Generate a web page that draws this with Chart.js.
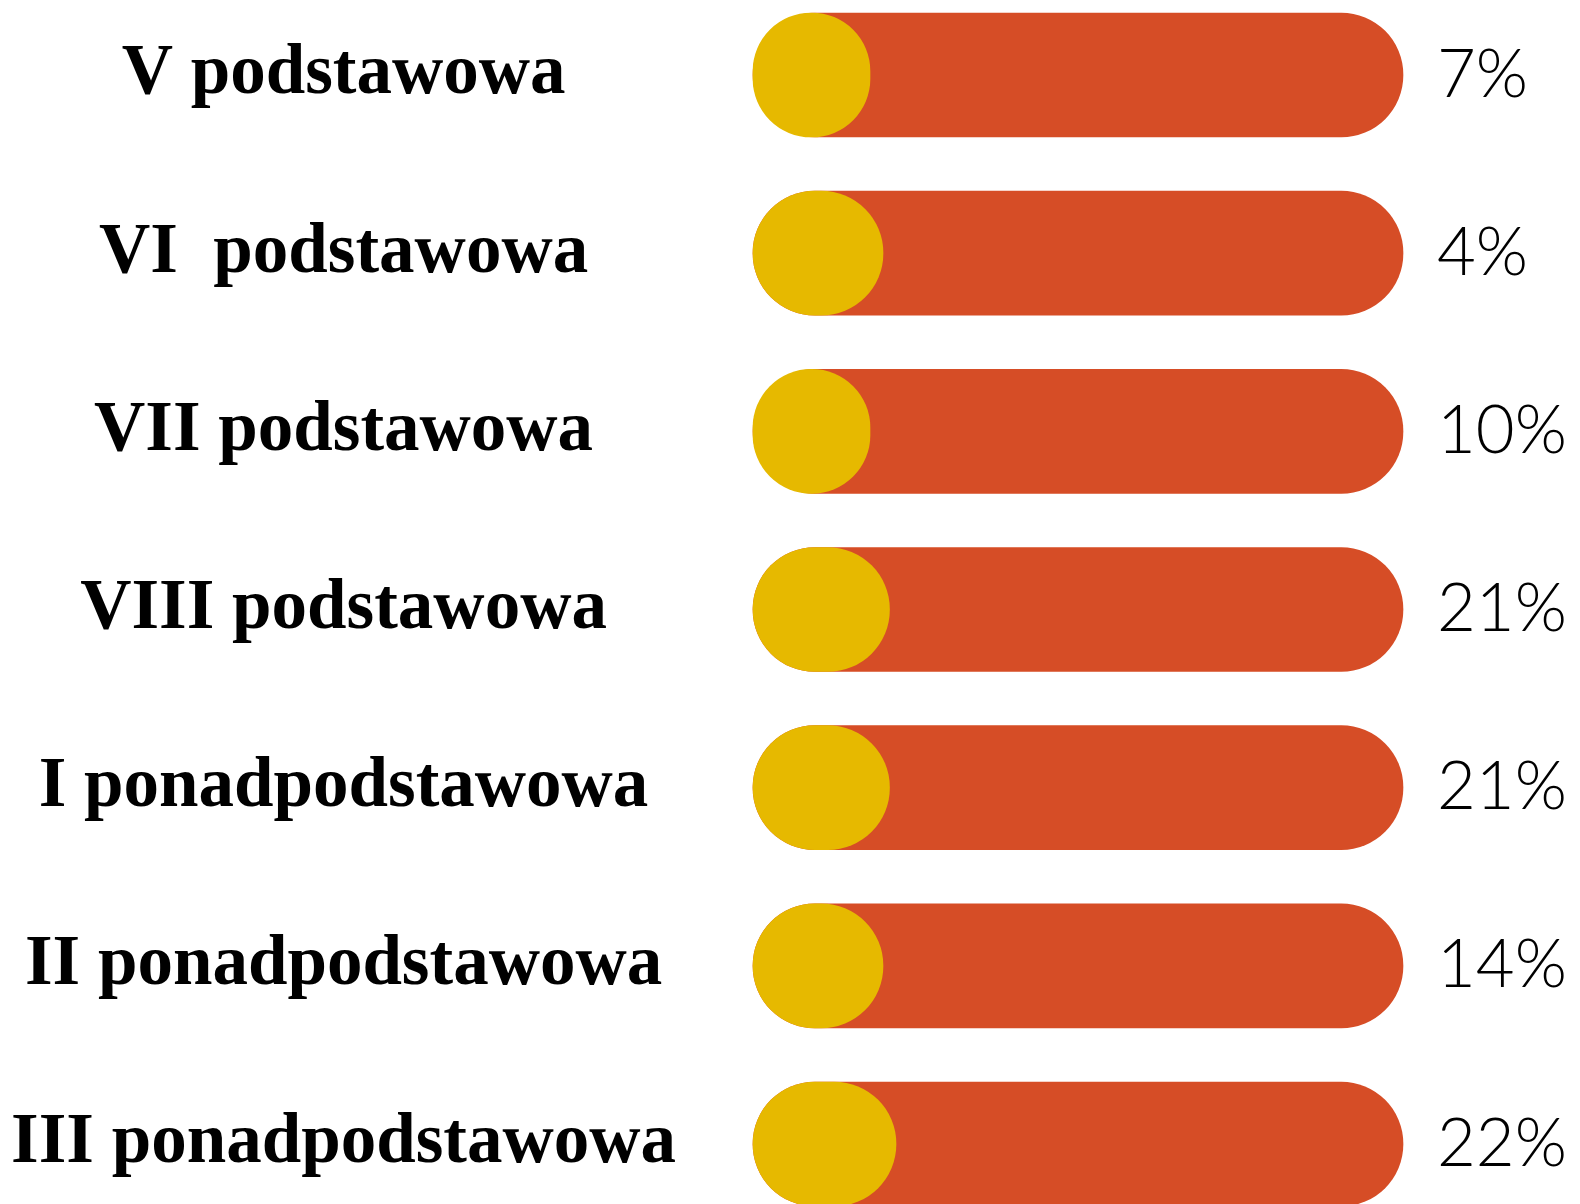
<!DOCTYPE html>
<html>
<head>
<meta charset="utf-8">
<script src="https://cdn.jsdelivr.net/npm/chart.js@4"></script>
<style>
  html, body { margin: 0; padding: 0; background: #fff; }
  canvas { display: block; }
</style>
</head>
<body>
<canvas id="chart" width="1580" height="1204"></canvas>
<script>
const classes = [
  'V podstawowa',
  'VI  podstawowa',
  'VII podstawowa',
  'VIII podstawowa',
  'I ponadpodstawowa',
  'II ponadpodstawowa',
  'III ponadpodstawowa',
];
const shares = [7, 4, 10, 21, 21, 14, 22];
// full track behind every row, and the yellow knob at its left end
const track = [100, 100, 100, 100, 100, 100, 100];
const knob = [18, 20, 18, 21, 21, 20, 22];

const shareLabels = shares.map((v) => `${v}%`);

const red = '#d64d26';
const yellow = '#e6b900';

// labels sit on the first/last rows, so drop the extra room Chart.js keeps for them
function fitAxis(width) {
  return (scale) => {
    scale.width = width;
    scale.paddingTop = 0;
    scale.paddingBottom = 0;
  };
}

new Chart(document.getElementById('chart'), {
  type: 'bar',
  data: {
    labels: classes,
    datasets: [
      {
        label: 'knob',
        data: knob,
        backgroundColor: yellow,
        borderRadius: 999,
        borderSkipped: false,
        barThickness: 124,
        grouped: false,
        clip: false,
        order: 1,
      },
      {
        label: 'track',
        data: track,
        backgroundColor: red,
        borderRadius: 999,
        borderSkipped: false,
        barThickness: 124,
        grouped: false,
        clip: false,
        order: 2,
      },
    ],
  },
  options: {
    indexAxis: 'y',
    responsive: false,
    devicePixelRatio: 1,
    animation: false,
    layout: { padding: { top: 75, bottom: 60, left: 0, right: 0 } },
    plugins: {
      legend: { display: false },
      tooltip: { enabled: false },
    },
    scales: {
      x: { display: false, min: 0, max: 100 },
      y: {
        type: 'category',
        position: 'left',
        offset: false,
        grid: { display: false, drawTicks: false },
        border: { display: false },
        ticks: {
          crossAlign: 'center',
          padding: 77,
          color: '#000',
          font: { family: "'Liberation Serif', 'DejaVu Serif', serif", weight: 'bold', size: 71 },
        },
        afterFit: fitAxis(753),
      },
      yShare: {
        type: 'category',
        axis: 'y',
        position: 'right',
        labels: shareLabels,
        offset: false,
        grid: { display: false, drawTicks: false },
        border: { display: false },
        ticks: {
          padding: 34,
          color: '#000',
          font: { family: "Lato, 'Open Sans', sans-serif", weight: 300, size: 67 },
        },
        afterFit: fitAxis(177),
      },
    },
  },
});
</script>
</body>
</html>
